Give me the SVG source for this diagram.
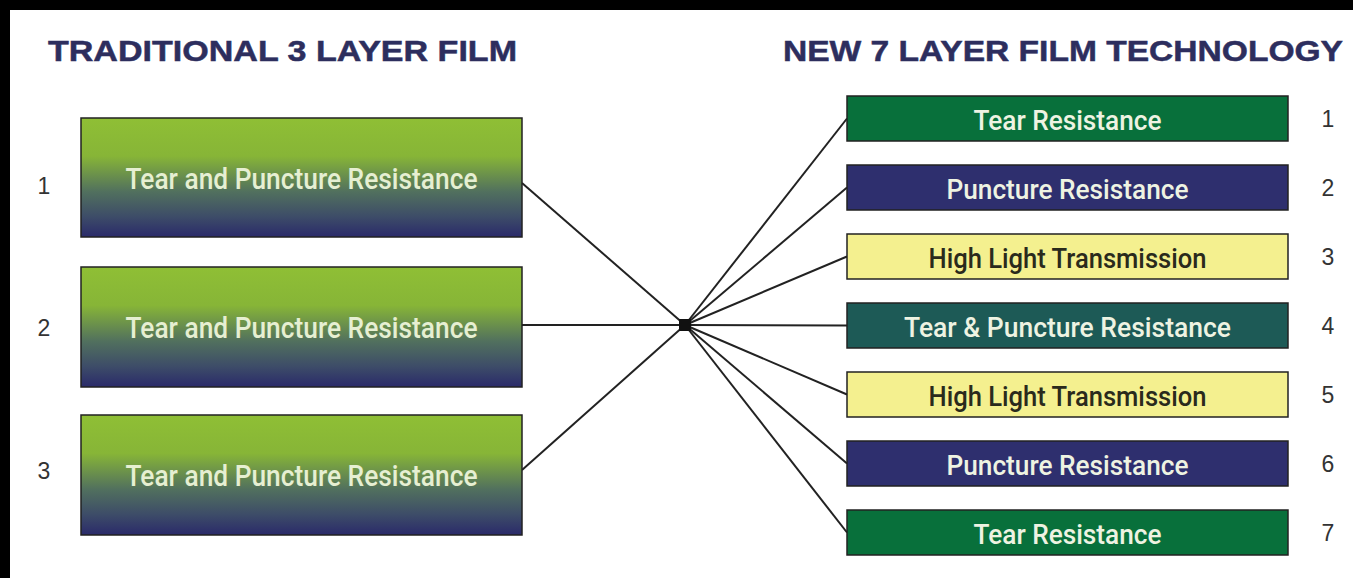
<svg xmlns="http://www.w3.org/2000/svg" width="1353" height="578" viewBox="0 0 1353 578">
<defs>
<linearGradient id="lg" x1="0" y1="0" x2="0" y2="1">
<stop offset="0" stop-color="#8fbf35"/>
<stop offset="0.32" stop-color="#87b537"/>
<stop offset="0.62" stop-color="#51705e"/>
<stop offset="0.83" stop-color="#3d4c68"/>
<stop offset="1" stop-color="#2a2a6a"/>
</linearGradient>
<style>
.title{font-family:"Liberation Sans",Arial,sans-serif;font-weight:bold;font-size:30px;fill:#2d2e5e;stroke:#2d2e5e;stroke-width:0.5}
.num{font-family:"Liberation Sans",Arial,sans-serif;font-size:23px;fill:#333}
.lbox{fill:url(#lg);stroke:#222;stroke-width:1.5}
.rbox{stroke:#222;stroke-width:1.5}
.lt{font-family:Roboto,"Liberation Sans",sans-serif;font-weight:500;font-size:29px;fill:#e6efd2;text-anchor:middle}
.rt{font-family:Roboto,"Liberation Sans",sans-serif;font-weight:500;font-size:27px;text-anchor:middle}
.green{fill:#08703b}
.navy{fill:#2e2f6e}
.yellow{fill:#f4f08f}
.teal{fill:#1d5a56}
.light{fill:#eef3e2}
.dark{fill:#2a2a1c}
.conn line{stroke:#222;stroke-width:2}
</style>
</defs>
<rect x="0" y="0" width="1353" height="578" fill="#fff"/>
<rect x="0" y="0" width="1353" height="10" fill="#000"/>
<rect x="0" y="0" width="10" height="578" fill="#000"/>

<text class="title" x="48" y="61" textLength="469" lengthAdjust="spacingAndGlyphs">TRADITIONAL 3 LAYER FILM</text>
<text class="title" x="783" y="61" textLength="560" lengthAdjust="spacingAndGlyphs">NEW 7 LAYER FILM TECHNOLOGY</text>

<g class="conn" id="connectors">
<line x1="522" y1="183" x2="685" y2="325"/>
<line x1="522" y1="325" x2="685" y2="325"/>
<line x1="522" y1="470" x2="685" y2="325"/>
<line x1="685" y1="325" x2="847" y2="118.5"/>
<line x1="685" y1="325" x2="847" y2="187.5"/>
<line x1="685" y1="325" x2="847" y2="256.5"/>
<line x1="685" y1="325" x2="847" y2="325.5"/>
<line x1="685" y1="325" x2="847" y2="394.5"/>
<line x1="685" y1="325" x2="847" y2="463.5"/>
<line x1="685" y1="325" x2="847" y2="532.5"/>
<rect x="679" y="319" width="12" height="12" fill="#111"/>
</g>

<g id="left1">
<rect class="lbox" x="81" y="118" width="441" height="119"/>
<text class="lt" x="301.5" y="189" textLength="352" lengthAdjust="spacingAndGlyphs">Tear and Puncture Resistance</text>
<text class="num" x="44" y="194" text-anchor="middle">1</text>
</g>
<g id="left2">
<rect class="lbox" x="81" y="267" width="441" height="120"/>
<text class="lt" x="301.5" y="338" textLength="352" lengthAdjust="spacingAndGlyphs">Tear and Puncture Resistance</text>
<text class="num" x="44" y="336" text-anchor="middle">2</text>
</g>
<g id="left3">
<rect class="lbox" x="81" y="415" width="441" height="120"/>
<text class="lt" x="301.5" y="486" textLength="352" lengthAdjust="spacingAndGlyphs">Tear and Puncture Resistance</text>
<text class="num" x="44" y="479" text-anchor="middle">3</text>
</g>

<g id="right1">
<rect class="rbox green" x="847" y="96" width="441" height="45"/>
<text class="rt light" x="1067.5" y="130" textLength="188" lengthAdjust="spacingAndGlyphs">Tear Resistance</text>
<text class="num" x="1328" y="127" text-anchor="middle">1</text>
</g>
<g id="right2">
<rect class="rbox navy" x="847" y="165" width="441" height="45"/>
<text class="rt light" x="1067.5" y="199" textLength="242" lengthAdjust="spacingAndGlyphs">Puncture Resistance</text>
<text class="num" x="1328" y="196" text-anchor="middle">2</text>
</g>
<g id="right3">
<rect class="rbox yellow" x="847" y="234" width="441" height="45"/>
<text class="rt dark" x="1067.5" y="268" textLength="278" lengthAdjust="spacingAndGlyphs">High Light Transmission</text>
<text class="num" x="1328" y="265" text-anchor="middle">3</text>
</g>
<g id="right4">
<rect class="rbox teal" x="847" y="303" width="441" height="45"/>
<text class="rt light" x="1067.5" y="337" textLength="327" lengthAdjust="spacingAndGlyphs">Tear &amp; Puncture Resistance</text>
<text class="num" x="1328" y="334" text-anchor="middle">4</text>
</g>
<g id="right5">
<rect class="rbox yellow" x="847" y="372" width="441" height="45"/>
<text class="rt dark" x="1067.5" y="406" textLength="278" lengthAdjust="spacingAndGlyphs">High Light Transmission</text>
<text class="num" x="1328" y="403" text-anchor="middle">5</text>
</g>
<g id="right6">
<rect class="rbox navy" x="847" y="441" width="441" height="45"/>
<text class="rt light" x="1067.5" y="475" textLength="242" lengthAdjust="spacingAndGlyphs">Puncture Resistance</text>
<text class="num" x="1328" y="472" text-anchor="middle">6</text>
</g>
<g id="right7">
<rect class="rbox green" x="847" y="510" width="441" height="45"/>
<text class="rt light" x="1067.5" y="544" textLength="188" lengthAdjust="spacingAndGlyphs">Tear Resistance</text>
<text class="num" x="1328" y="541" text-anchor="middle">7</text>
</g>
</svg>
